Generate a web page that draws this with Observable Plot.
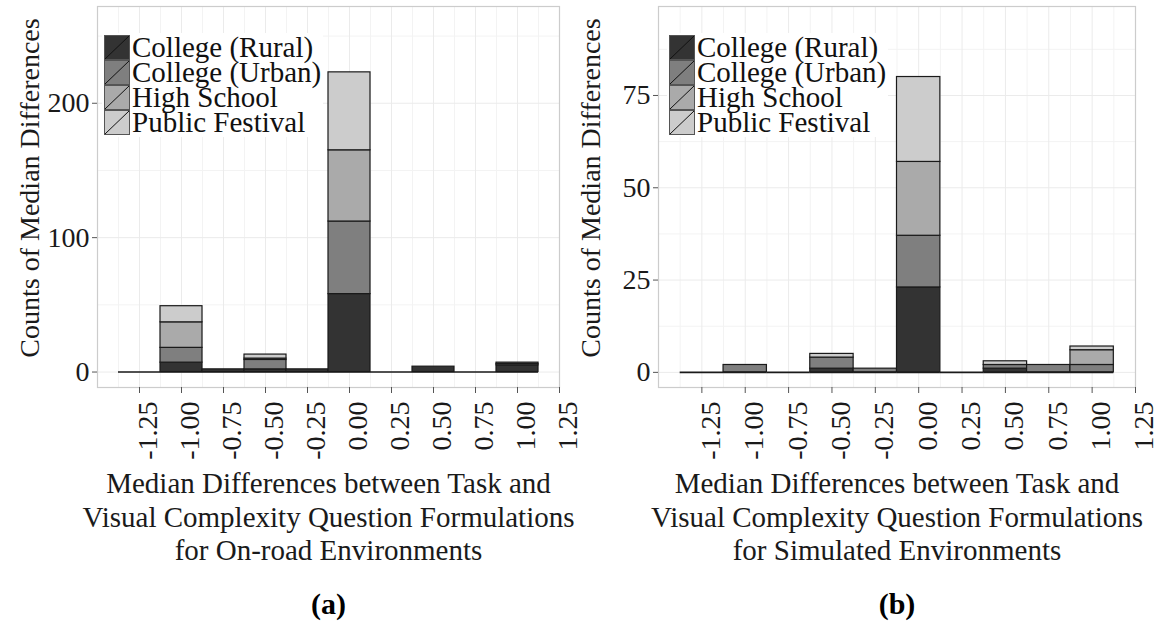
<!DOCTYPE html>
<html><head><meta charset="utf-8">
<script src="https://cdn.jsdelivr.net/npm/d3@7"></script>
<script src="https://cdn.jsdelivr.net/npm/@observablehq/plot@0.6"></script>
<style>
body{margin:0;background:#fff;}
#wrap{display:flex;width:1157px;height:622px;overflow:hidden;}
.panel{position:relative;}
.panel > svg{display:block;overflow:visible;}
.legend{position:absolute;background:#fff;font-family:"Liberation Serif","Times New Roman",serif;font-size:29px;color:#111;padding:2px 2px 2px 2px;}
.legend .row{display:flex;align-items:center;height:25px;line-height:25px;white-space:nowrap;}
.legend .row svg{margin-right:2px;}
</style></head><body><div id="wrap"></div>
<script>
// ---- data ----
const groups = ["College (Rural)", "College (Urban)", "High School", "Public Festival"];
const colors = ["#333333", "#7f7f7f", "#aaaaaa", "#cccccc"];
const bins = [-1.25, -1.00, -0.75, -0.50, -0.25, 0.00, 0.25, 0.50, 0.75, 1.00];
const xTicks = [-1.25, -1.00, -0.75, -0.50, -0.25, 0.00, 0.25, 0.50, 0.75, 1.00, 1.25];

// (a) On-road environments: counts per bin for each group
const onroadRural  = [0, 7, 2, 2, 2, 58, 0, 4, 0, 5];
const onroadUrban  = [0, 11, 0, 7, 0, 54, 0, 0, 0, 0];
const onroadHigh   = [0, 19, 0, 1, 0, 53, 0, 0, 0, 1];
const onroadFest   = [0, 12, 0, 3, 0, 58, 0, 0, 0, 1];
const onroadYTicks = [0, 100, 200];

// (b) Simulated environments
const simRural  = [0, 0, 0, 1, 0, 23, 0, 1, 0, 0];
const simUrban  = [0, 2, 0, 3, 1, 14, 0, 1, 2, 2];
const simHigh   = [0, 0, 0, 0, 0, 20, 0, 0, 0, 4];
const simFest   = [0, 0, 0, 1, 0, 23, 0, 1, 0, 1];
const simYTicks = [0, 25, 50, 75];

const xTitleA = "Median Differences between Task and\nVisual Complexity Question Formulations\nfor On-road Environments";
const xTitleB = "Median Differences between Task and\nVisual Complexity Question Formulations\nfor Simulated Environments";
const yTitle = "Counts of Median Differences";

// ---- helpers ----
const FONT = '"Liberation Serif","Times New Roman",serif';
const binWidth = 0.25;
function tidy(series) {
  const rows = [];
  bins.forEach((b, i) => {
    series.forEach((s, g) => rows.push({x1: b - binWidth / 2, x2: b + binWidth / 2, count: s[i], group: groups[g]}));
  });
  return rows;
}
const fmt = d => d3.format(".2f")(d).replace("\u2212", "-");

function makePanel({series, yTicks, yDomain, width, marginLeft, marginRight, xTitle, caption, legendLeft}) {
  const data = tidy(series);
  const step = yTicks[1] - yTicks[0];
  const minorY = yTicks.map(t => t + step / 2);
  const minorX = xTicks.map(t => t - 0.125);
  const plot = Plot.plot({
    width, height: 622,
    marginLeft, marginRight, marginTop: 6, marginBottom: 235,
    style: {fontFamily: FONT, background: "#fff", color: "#1a1a1a", overflow: "visible"},
    x: {domain: [-1.5, 1.25]},
    y: {domain: yDomain},
    color: {domain: groups, range: colors},
    marks: [
      Plot.gridX(minorX, {stroke: "#f3f3f3", strokeOpacity: 1, strokeWidth: 1}),
      Plot.gridY(minorY.filter(v => v < yDomain[1]), {stroke: "#f3f3f3", strokeOpacity: 1, strokeWidth: 1}),
      Plot.gridX(xTicks, {stroke: "#ebebeb", strokeOpacity: 1, strokeWidth: 1}),
      Plot.gridY(yTicks, {stroke: "#ebebeb", strokeOpacity: 1, strokeWidth: 1}),
      Plot.rectY(data, Plot.stackY({x1: "x1", x2: "x2", y: "count", fill: "group", order: null, stroke: "#1a1a1a", strokeWidth: 1.2})),
      // baseline outline of every bin (zero-count bins appear as flat lines)
      Plot.ruleY(bins, {x1: b => b - binWidth / 2, x2: b => b + binWidth / 2, y: 0, stroke: "#1a1a1a", strokeWidth: 1.6}),
      Plot.frame({stroke: "#cccccc", strokeWidth: 1.2}),
      Plot.axisY({ticks: yTicks, tickSize: 5, tickPadding: 3, fontSize: 28, stroke: "#555", label: null, tickFormat: d => String(d)}),
      Plot.axisX({ticks: xTicks, tickSize: 6, text: null, stroke: "#555", label: null}),
      Plot.axisX({ticks: xTicks, tickSize: 0, tickPadding: 14, tickRotate: -90, dx: 9, fontSize: 28, tickFormat: fmt, label: null}),
      Plot.text([yTitle], {frameAnchor: "left", textAnchor: "middle", rotate: -90, dx: -67, dy: -9, fontSize: 28, fill: "#1a1a1a"}),
      Plot.text([xTitle], {frameAnchor: "bottom", lineAnchor: "top", dy: 81, fontSize: 29, lineHeight: 1.17, fill: "#1a1a1a"}),
      Plot.text([caption], {frameAnchor: "bottom", lineAnchor: "middle", dy: 217, fontSize: 30, fontWeight: "bold", fill: "#000"})
    ]
  });
  const div = document.createElement("div");
  div.className = "panel";
  div.style.width = width + "px";
  div.appendChild(plot);
  // legend (ggplot-style keys with diagonal slash)
  const leg = document.createElement("div");
  leg.className = "legend";
  leg.style.left = legendLeft + "px";
  leg.style.top = "33px";
  groups.forEach((g, i) => {
    const row = document.createElement("div");
    row.className = "row";
    row.innerHTML = `<svg width="26" height="25"><rect x="0.5" y="0.5" width="25" height="24" fill="${colors[i]}" stroke="#555" stroke-width="1"/><line x1="1" y1="24" x2="25" y2="1" stroke="#111" stroke-width="1"/></svg><span>${g}</span>`;
    leg.appendChild(row);
  });
  div.appendChild(leg);
  return div;
}

const wrap = document.getElementById("wrap");
wrap.appendChild(makePanel({
  series: [onroadRural, onroadUrban, onroadHigh, onroadFest],
  yTicks: onroadYTicks, yDomain: [-11.5, 272], width: 578,
  marginLeft: 97, marginRight: 19, xTitle: xTitleA, caption: "(a)", legendLeft: 102
}));
wrap.appendChild(makePanel({
  series: [simRural, simUrban, simHigh, simFest],
  yTicks: simYTicks, yDomain: [-4.1, 99.1], width: 579,
  marginLeft: 80, marginRight: 22, xTitle: xTitleB, caption: "(b)", legendLeft: 89
}));
</script></body></html>
